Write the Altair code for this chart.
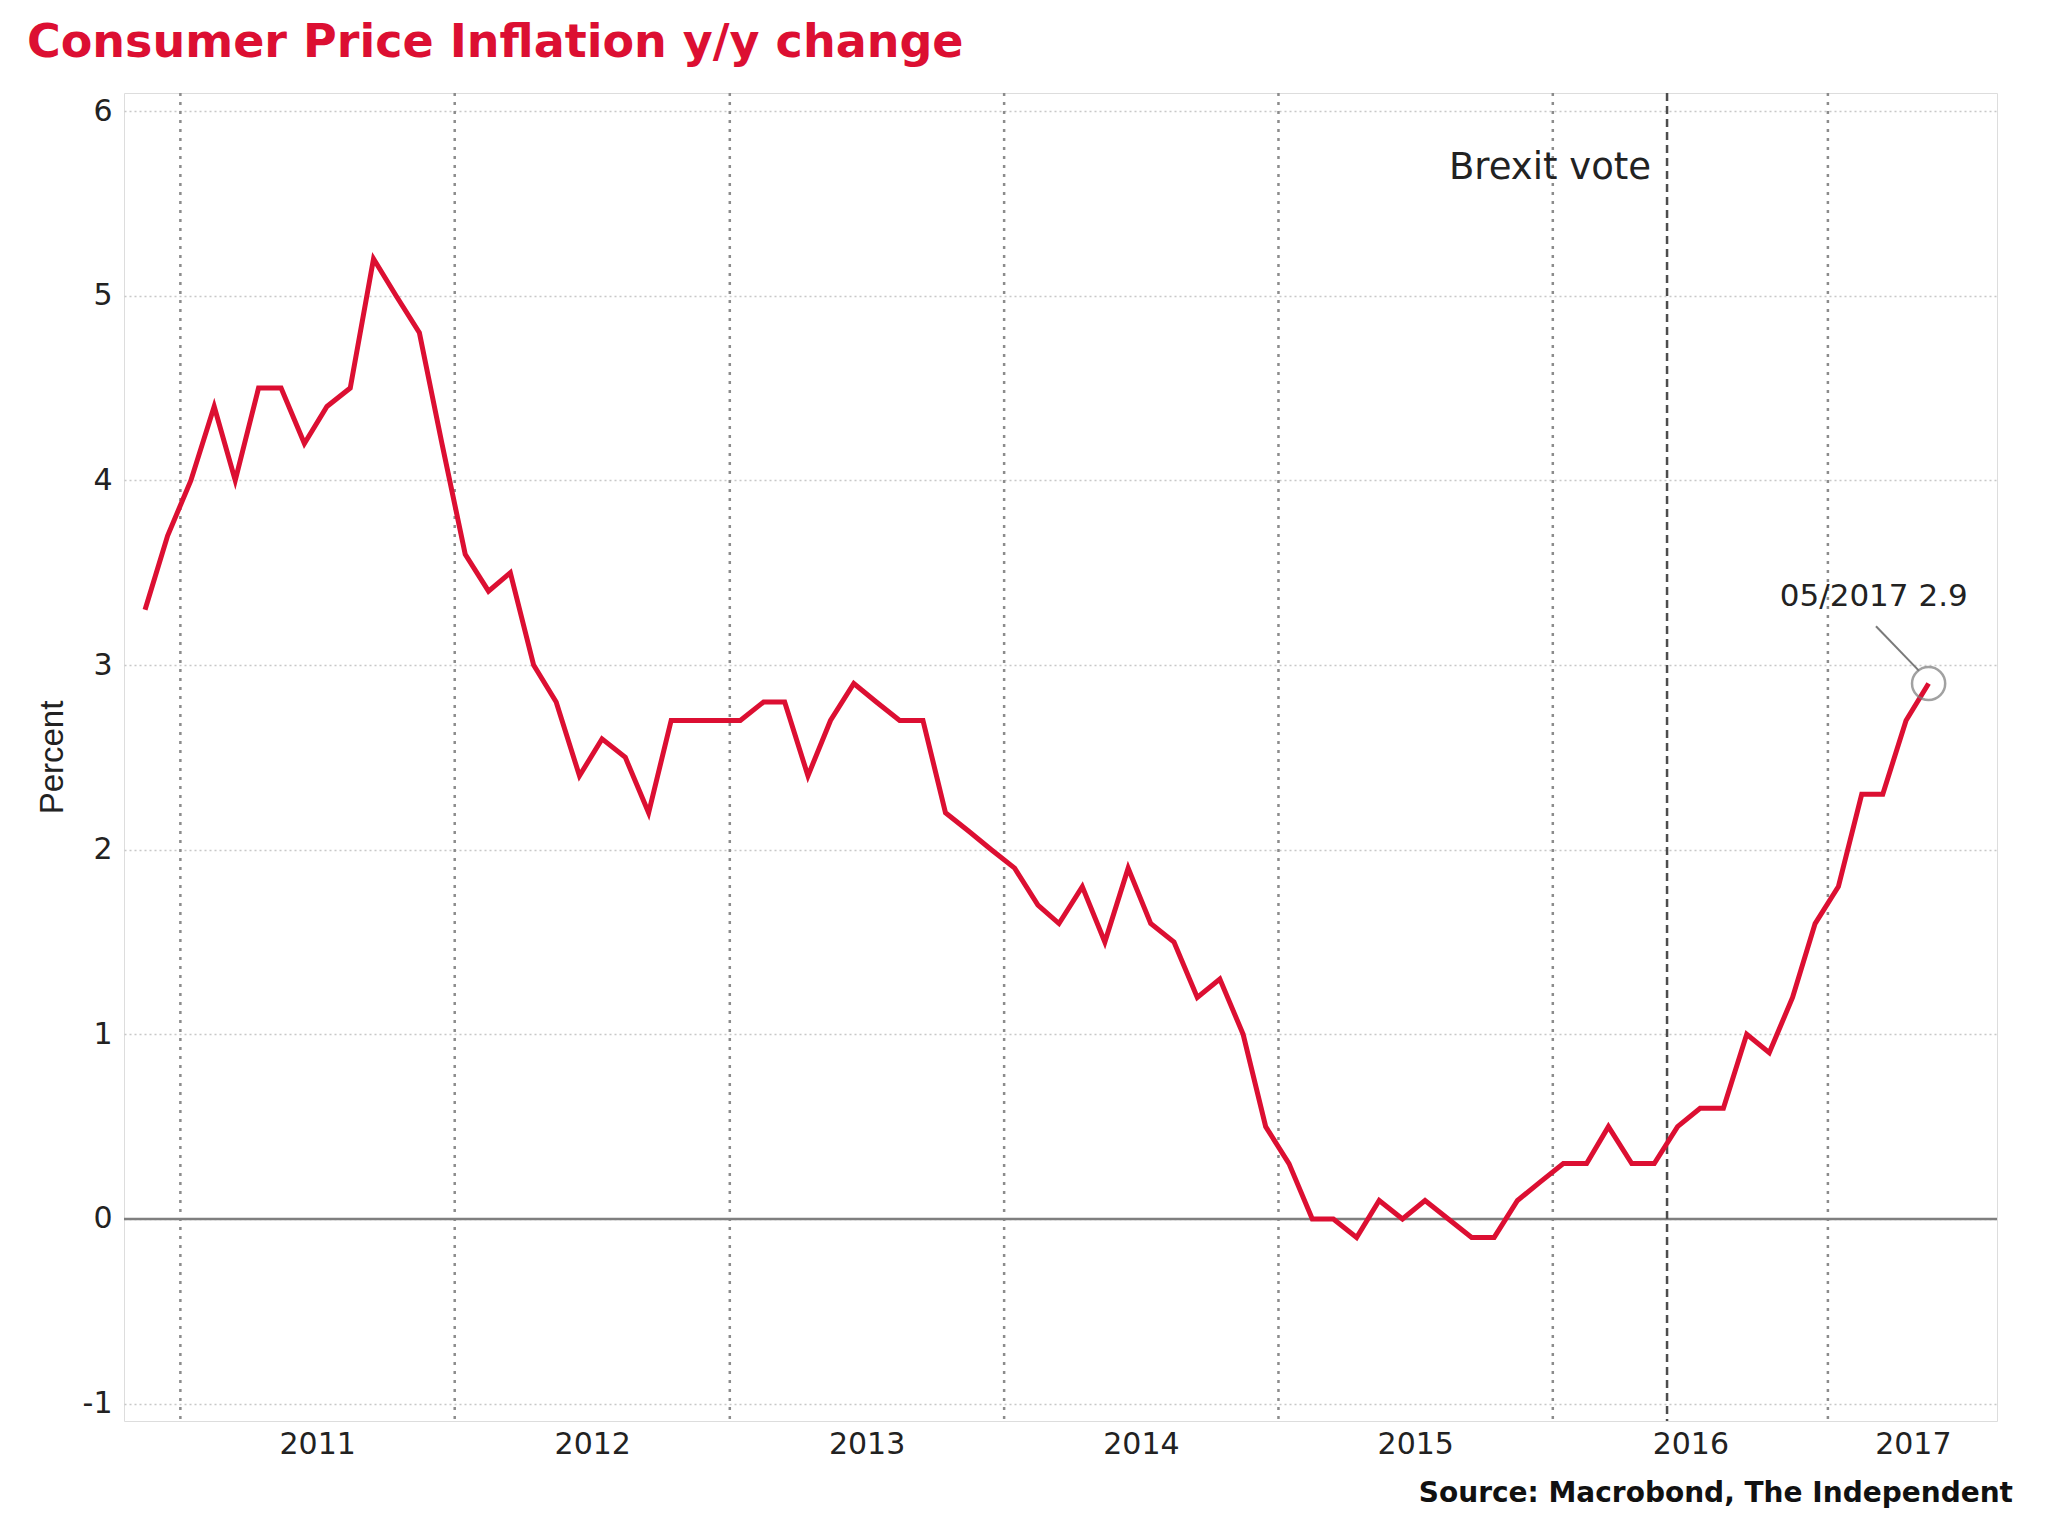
import altair as alt
import pandas as pd

# ---------------- data ----------------
TITLE = "Consumer Price Inflation y/y change"
SOURCE = "Source: Macrobond, The Independent"
Y_TITLE = "Percent"

START_YEAR, START_MONTH = 2010, 11   # first observation: Nov 2010
cpi = [3.3, 3.7,
       4.0, 4.4, 4.0, 4.5, 4.5, 4.2, 4.4, 4.5, 5.2, 5.0, 4.8, 4.2,
       3.6, 3.4, 3.5, 3.0, 2.8, 2.4, 2.6, 2.5, 2.2, 2.7, 2.7, 2.7,
       2.7, 2.8, 2.8, 2.4, 2.7, 2.9, 2.8, 2.7, 2.7, 2.2, 2.1, 2.0,
       1.9, 1.7, 1.6, 1.8, 1.5, 1.9, 1.6, 1.5, 1.2, 1.3, 1.0, 0.5,
       0.3, 0.0, 0.0, -0.1, 0.1, 0.0, 0.1, 0.0, -0.1, -0.1, 0.1, 0.2,
       0.3, 0.3, 0.5, 0.3, 0.3, 0.5, 0.6, 0.6, 1.0, 0.9, 1.2, 1.6,
       1.8, 2.3, 2.3, 2.7, 2.9]

months = []
yy, mm = START_YEAR, START_MONTH
for _ in cpi:
    months.append(f"{yy}-{mm:02d}-15")
    mm += 1
    if mm > 12:
        mm = 1
        yy += 1

year_starts = ["2011-01-01", "2012-01-01", "2013-01-01", "2014-01-01",
               "2015-01-01", "2016-01-01", "2017-01-01"]
year_label_pos = ["2011-07-02", "2012-07-02", "2013-07-02", "2014-07-02",
                  "2015-07-02", "2016-07-02", "2017-04-24"]
y_ticks = [-1, 0, 1, 2, 3, 4, 5, 6]
x_domain = ["2010-10-18", "2017-08-14"]
y_domain = [-1.094, 6.098]

brexit_date = ["2016-06-01"]
brexit_label = ["Brexit vote"]
brexit_label_y = [5.69]

last_label = ["05/2017 2.9"]
last_label_pos = ["2017-03-03"]
last_label_y = [3.37]
leader_x = ["2017-03-06"]
leader_y = [3.21]
leader_x2 = ["2017-05-02"]
leader_y2 = [2.97]


def dt(s):
    y, m, d = (int(p) for p in s.split("-"))
    return alt.DateTime(year=y, month=m, date=d, utc=True)


RED = "#dc0f32"
FONT = "DejaVu Sans"
W, H = 1873, 1328

df = pd.DataFrame({"date": months, "cpi": cpi})
df_grid = pd.DataFrame({"date": year_starts})
df_brexit = pd.DataFrame({"date": brexit_date, "label": brexit_label, "y": brexit_label_y})
df_last = pd.DataFrame({"date": months[-1:], "cpi": cpi[-1:]})
df_ann = pd.DataFrame({"date": last_label_pos, "y": last_label_y, "label": last_label})
df_leader = pd.DataFrame({"x": leader_x, "y": leader_y, "x2": leader_x2, "y2": leader_y2})
df_zero = pd.DataFrame({"v": [0]})
df_title = pd.DataFrame({"t": [TITLE]})
df_source = pd.DataFrame({"t": [SOURCE]})

x_scale = alt.Scale(type="utc", domain=[dt(s) for s in x_domain])
y_scale = alt.Scale(domain=y_domain, nice=False, zero=False)

x_axis = alt.Axis(
    values=[dt(s) for s in year_label_pos],
    labelExpr="utcFormat(datum.value, '%Y')",
    grid=False, ticks=False, domain=False,
    labelFont=FONT, labelFontSize=30, labelColor="#222222",
    labelPadding=8, title=None, labelFlush=False, labelOverlap=False,
)
y_axis = alt.Axis(
    values=y_ticks, grid=True, gridColor="#c8c8c8", gridWidth=1.5,
    gridDash=[2, 3], ticks=False, domain=False,
    labelExpr="datum.value < 0 ? '-' + abs(datum.value) : '' + datum.value",
    labelFont=FONT, labelFontSize=30, labelColor="#222222",
    labelPadding=12, labelBaseline="middle",
    title=Y_TITLE, titleFont="Liberation Sans Narrow, Liberation Sans",
    titleFontSize=33, titleFontWeight="normal", titleColor="#222222",
    titleAngle=270, titleX=-62, titleY=664, titleAlign="center",
    titleBaseline="alphabetic",
)


def xenc(field):
    return alt.X(field, scale=x_scale, axis=x_axis, title=None)


def yenc(field):
    return alt.Y(field, scale=y_scale, axis=y_axis, title=Y_TITLE)


grid = alt.Chart(df_grid).mark_rule(
    color="#8c8c8c", strokeWidth=2.5, strokeDash=[3, 6]
).encode(x=xenc("date:T"))

zero = alt.Chart(df_zero).mark_rule(color="#7f7f7f", strokeWidth=2.5).encode(
    y=yenc("v:Q")
)

brexit = alt.Chart(df_brexit).mark_rule(
    color="#4d4d4d", strokeWidth=2.5, strokeDash=[8, 5]
).encode(x=xenc("date:T"))

brexit_text = alt.Chart(df_brexit).mark_text(
    align="right", baseline="middle", dx=-16, font=FONT, fontSize=37, color="#222222"
).encode(x=xenc("date:T"), y=yenc("y:Q"), text="label:N")

line = alt.Chart(df).mark_line(color=RED, strokeWidth=5, strokeJoin="miter").encode(
    x=xenc("date:T"), y=yenc("cpi:Q")
)

circle = alt.Chart(df_last).mark_point(
    shape="circle", size=1100, filled=False, color="#7a7a7a", strokeWidth=2.5
).encode(x=xenc("date:T"), y=yenc("cpi:Q"))

leader = alt.Chart(df_leader).mark_rule(color="#7a7a7a", strokeWidth=2).encode(
    x=xenc("x:T"), y=yenc("y:Q"), x2="x2:T", y2="y2:Q"
)

ann = alt.Chart(df_ann).mark_text(
    align="center", baseline="middle", font=FONT, fontSize=31, color="#222222"
).encode(x=xenc("date:T"), y=yenc("y:Q"), text="label:N")

title = alt.Chart(df_title).mark_text(
    align="left", baseline="alphabetic", font=FONT, fontWeight="bold",
    fontSize=46, color=RED
).encode(x=alt.value(-97), y=alt.value(-36), text="t:N")

source = alt.Chart(df_source).mark_text(
    align="right", baseline="alphabetic", font=FONT, fontWeight="bold",
    fontSize=28, color="#111111"
).encode(x=alt.value(W + 16), y=alt.value(1409), text="t:N")

chart = alt.layer(
    grid, zero, brexit, brexit_text, line, circle, leader, ann, title, source
).properties(
    width=W,
    height=H,
    autosize=alt.AutoSizeParams(type="none"),
    padding={"left": 116, "top": 85, "right": 40, "bottom": 110},
).configure_view(
    stroke="#d6d6d6", strokeWidth=2
).configure(background="white")

chart.save("out.html", embed_options={"renderer": "svg", "actions": False})
